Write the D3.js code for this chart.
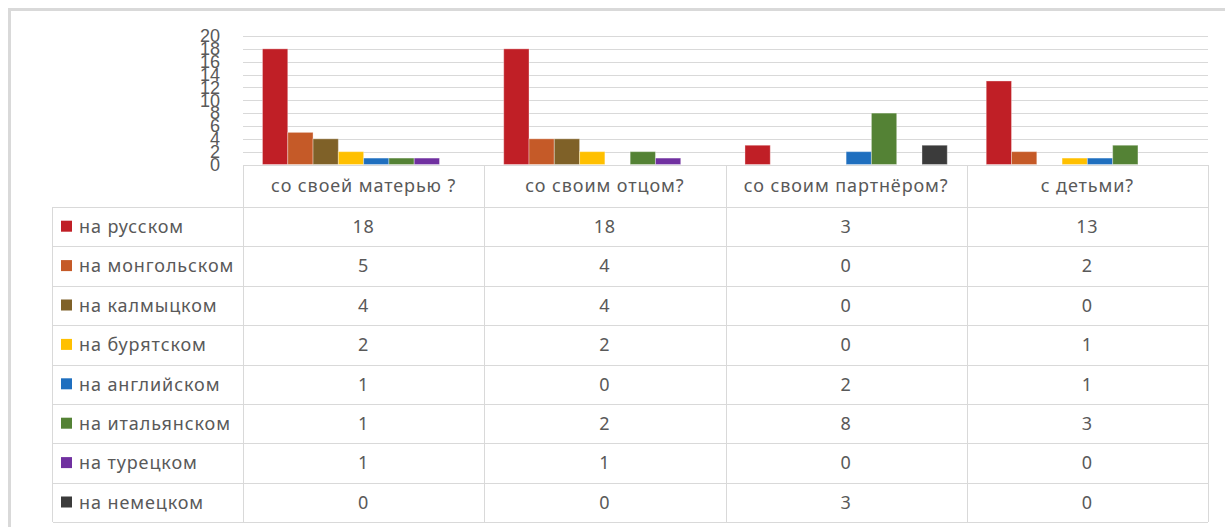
<!DOCTYPE html>
<meta charset="utf-8">
<style>
body { margin: 0; background: #fff; }
svg { font-family: "Noto Sans", sans-serif; }
.grid line { stroke: #d9d9d9; stroke-width: 1px; shape-rendering: crispEdges; }
.y.axis text { fill: #595959; font-size: 18px; }
.tbl line { stroke: #d9d9d9; stroke-width: 1px; shape-rendering: crispEdges; }
.tbl text { fill: #595959; font-size: 18px; letter-spacing: 0.9px; }
</style>
<div id="chart"></div>
<script src="https://d3js.org/d3.v7.min.js"></script>
<script>

// questions (categories)
var categories = ["со своей матерью ?", "со своим отцом?", "со своим партнёром?", "с детьми?"];
// languages (series)
var seriesNames = ["на русском", "на монгольском", "на калмыцком", "на бурятском",
  "на английском", "на итальянском", "на турецком", "на немецком"];
var russian   = [18, 18, 3, 13];
var mongolian = [5, 4, 0, 2];
var kalmyk    = [4, 4, 0, 0];
var buryat    = [2, 2, 0, 1];
var english   = [1, 0, 2, 1];
var italian   = [1, 2, 8, 3];
var turkish   = [1, 1, 0, 0];
var german    = [0, 0, 3, 0];
var yTicks = [0, 2, 4, 6, 8, 10, 12, 14, 16, 18, 20];

var seriesValues = [russian, mongolian, kalmyk, buryat, english, italian, turkish, german];
var colors = ["#c01f26", "#c55a28", "#7f6128", "#ffc000", "#1f6fbf", "#548235", "#7030a0", "#3b3b3b"];

var W = 1225, H = 527;
var plot = {left: 243, right: 1208, top: 36, bottom: 164.5};
var rowH = 39.4, headTop = 165, headBottom = 207, tableLeft = 52.5;

var svg = d3.select("#chart").append("svg")
  .attr("width", W)
  .attr("height", H);

// outer chart frame
svg.append("path")
  .attr("d", "M9.5," + H + "V9.5H" + W)
  .attr("fill", "none")
  .attr("stroke", "#d9d9d9")
  .attr("stroke-width", 3);

var x0 = d3.scaleBand().domain(categories).range([plot.left, plot.right]);
var x1 = d3.scaleBand().domain(seriesNames).range([0, x0.bandwidth()]).paddingOuter(0.77);
var y = d3.scaleLinear().domain([0, 20]).range([plot.bottom, plot.top]);

// gridlines
svg.append("g")
  .attr("class", "grid")
  .selectAll("line")
  .data(yTicks)
  .enter().append("line")
  .attr("x1", plot.left)
  .attr("x2", plot.right)
  .attr("y1", function(d) { return Math.round(y(d)) + 0.5; })
  .attr("y2", function(d) { return Math.round(y(d)) + 0.5; });

// y axis labels (overlapping, like the original)
var yAxis = d3.axisLeft(y).tickValues(yTicks).tickSize(0).tickPadding(0);
svg.append("g")
  .attr("class", "y axis")
  .attr("transform", "translate(220,0)")
  .call(yAxis)
  .call(function(g) { g.select(".domain").remove(); })
  .selectAll("text")
  .attr("font-family", null)
  .attr("font-size", null);

// bars
var groups = svg.append("g").selectAll("g")
  .data(categories)
  .enter().append("g")
  .attr("transform", function(d) { return "translate(" + x0(d) + ",0)"; });

groups.selectAll("rect")
  .data(function(c, ci) {
    return seriesNames.map(function(s, si) { return {s: s, si: si, v: seriesValues[si][ci]}; });
  })
  .enter().append("rect")
  .filter(function(d) { return d.v > 0; })
  .attr("x", function(d) { return x1(d.s); })
  .attr("width", x1.bandwidth())
  .attr("y", function(d) { return y(d.v); })
  .attr("height", function(d) { return y(0) - y(d.v); })
  .attr("fill", function(d) { return colors[d.si]; })
  .attr("stroke", "rgba(255,255,255,0.35)")
  .attr("stroke-width", 1);

// data table
var tbl = svg.append("g").attr("class", "tbl");
var tableBottom = headBottom + rowH * seriesNames.length;

// header top line
tbl.append("line")
  .attr("x1", plot.left).attr("x2", plot.right)
  .attr("y1", headTop + 0.5).attr("y2", headTop + 0.5);

// row lines
d3.range(seriesNames.length + 1).forEach(function(i) {
  var yy = Math.round(headBottom + i * rowH) + 0.5;
  tbl.append("line")
    .attr("x1", tableLeft).attr("x2", plot.right)
    .attr("y1", yy).attr("y2", yy);
});

// column lines
tbl.append("line")
  .attr("x1", tableLeft).attr("x2", tableLeft)
  .attr("y1", headBottom).attr("y2", tableBottom);
categories.forEach(function(c, i) {
  var xx = Math.round(x0(c)) + 0.5;
  tbl.append("line").attr("x1", xx).attr("x2", xx).attr("y1", headTop).attr("y2", tableBottom);
});
tbl.append("line")
  .attr("x1", plot.right + 0.5).attr("x2", plot.right + 0.5)
  .attr("y1", headTop).attr("y2", tableBottom);

// header text
tbl.selectAll("text.head")
  .data(categories)
  .enter().append("text")
  .attr("class", "head")
  .attr("x", function(d) { return x0(d) + x0.bandwidth() / 2; })
  .attr("y", (headTop + headBottom) / 2)
  .attr("dy", "0.35em")
  .attr("text-anchor", "middle")
  .text(function(d) { return d; });

// rows: legend key, label, values
seriesNames.forEach(function(s, si) {
  var cy = headBottom + si * rowH + rowH / 2;
  tbl.append("rect")
    .attr("x", 61).attr("y", cy - 6)
    .attr("width", 11).attr("height", 11)
    .attr("fill", colors[si]);
  tbl.append("text")
    .attr("x", 79).attr("y", cy)
    .attr("dy", "0.35em")
    .text(s);
  categories.forEach(function(c, ci) {
    tbl.append("text")
      .attr("x", x0(c) + x0.bandwidth() / 2)
      .attr("y", cy)
      .attr("dy", "0.35em")
      .attr("text-anchor", "middle")
      .text(seriesValues[si][ci]);
  });
});

</script>
